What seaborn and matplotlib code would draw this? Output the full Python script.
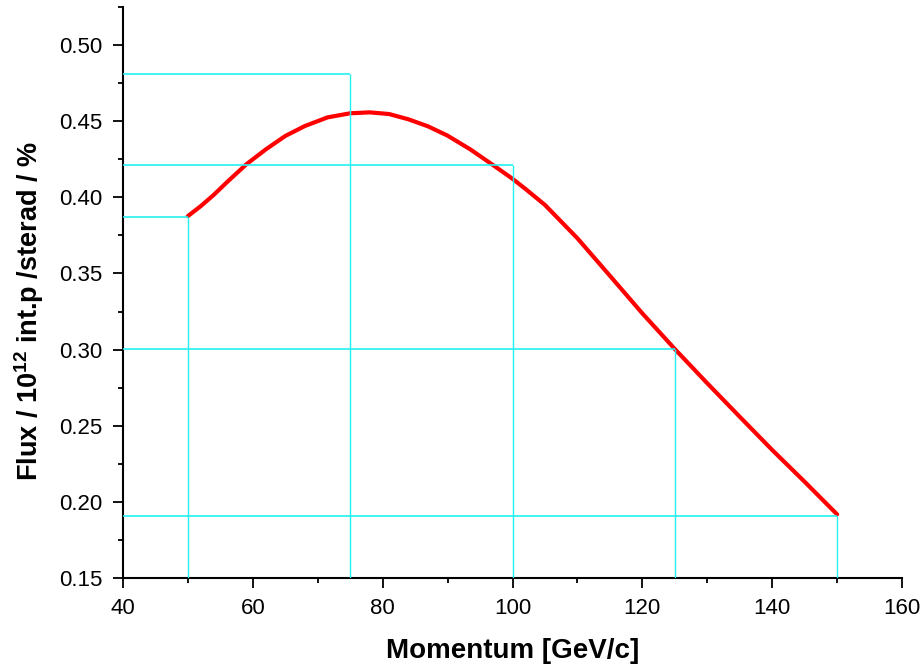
import matplotlib
matplotlib.use("Agg")
import matplotlib.pyplot as plt
import seaborn as sns
import pandas as pd
from matplotlib.ticker import MultipleLocator, FormatStrFormatter

# Red curve: flux vs momentum
momentum = [50, 52, 54, 56, 59, 62, 65, 68, 71.5, 75, 78, 81, 84, 87, 90,
            93.5, 97, 100, 102, 105, 110, 115, 120, 125, 130, 135, 140, 145, 150]
flux = [0.3877, 0.3943, 0.4017, 0.4099, 0.4217, 0.4315, 0.4403, 0.4468, 0.4525,
        0.4552, 0.4558, 0.4547, 0.4512, 0.4466, 0.4405, 0.4315, 0.4212, 0.4122,
        0.4055, 0.3950, 0.3731, 0.3485, 0.3238, 0.3004, 0.2779, 0.2559, 0.2341,
        0.2132, 0.1918]

# Cyan guide lines
guide_x = [50, 75, 100, 125, 150]
guide_y = [0.387, 0.481, 0.421, 0.3005, 0.1905]

x_ticks = [40, 60, 80, 100, 120, 140, 160]
y_ticks = [0.15, 0.20, 0.25, 0.30, 0.35, 0.40, 0.45, 0.50]

sns.set_style("ticks")
plt.rcParams['font.family'] = ['Liberation Sans', 'DejaVu Sans']
plt.rcParams['mathtext.fontset'] = 'custom'
plt.rcParams['mathtext.rm'] = 'Liberation Sans'
plt.rcParams['mathtext.bf'] = 'Liberation Sans:bold'
plt.rcParams['text.color'] = 'black'
plt.rcParams['axes.labelcolor'] = 'black'

fig = plt.figure(figsize=(9.24, 6.69), dpi=100)
ax = fig.add_axes([123/924, 1 - 578/669, (902 - 123)/924, (578 - 7)/669])

df = pd.DataFrame({"Momentum": momentum, "Flux": flux})
sns.lineplot(data=df, x="Momentum", y="Flux", ax=ax, color="#ff0000",
             linewidth=3.0, zorder=2)

ax.vlines(guide_x, 0.15, guide_y, colors="#22f0f0", linewidth=1.0, zorder=3)
ax.hlines(guide_y, 40, guide_x, colors="#22f0f0", linewidth=1.2, zorder=3)

ax.set_xlim(40, 160)
ax.set_ylim(0.15, 0.525)
ax.set_xticks(x_ticks)
ax.set_yticks(y_ticks)
ax.xaxis.set_minor_locator(MultipleLocator(10))
ax.yaxis.set_minor_locator(MultipleLocator(0.025))
ax.yaxis.set_major_formatter(FormatStrFormatter("%.2f"))

for s in ["top", "right"]:
    ax.spines[s].set_visible(False)
for s in ["left", "bottom"]:
    ax.spines[s].set_linewidth(1.5)
    ax.spines[s].set_color("black")

ax.tick_params(which="major", direction="out", length=7.5, width=1.3,
               labelsize=16, colors="black", labelcolor="black", pad=7)
ax.tick_params(which="minor", direction="out", length=3.8, width=1.3, colors="black")

ax.set_xlabel("Momentum [GeV/c]", fontsize=20, fontweight="bold", color="black")
ax.set_ylabel(r"Flux / 10$^{\mathbf{12}}$ int.p /sterad / %", fontsize=19.5,
              fontweight="bold", color="black")
ax.xaxis.set_label_coords(0.5, -0.105)
ax.yaxis.set_label_coords(-0.099, 0.4676)

fig.savefig("out.png", dpi=100)
